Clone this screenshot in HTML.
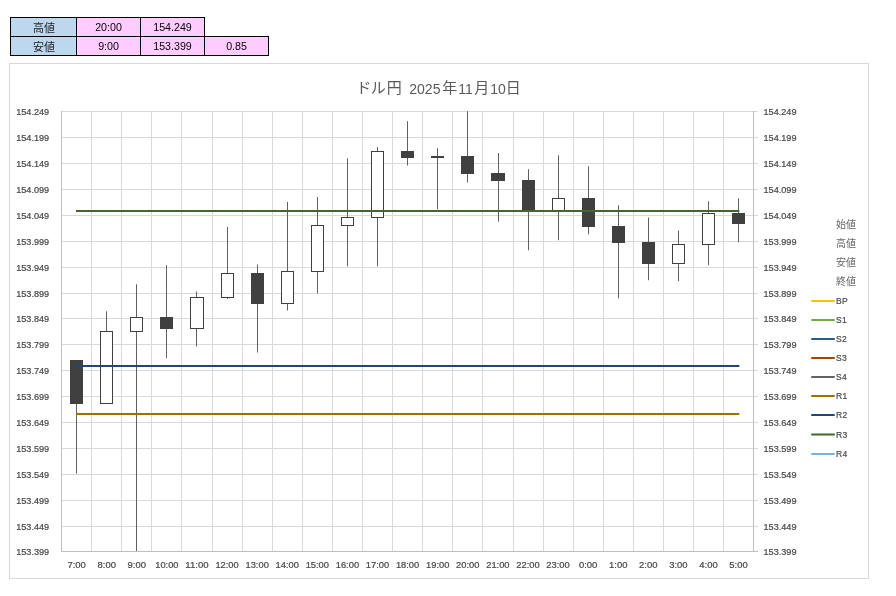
<!DOCTYPE html>
<html lang="ja"><head><meta charset="utf-8"><title>ドル円 2025年11月10日</title>
<style>
html,body{margin:0;padding:0;background:#fff;}
body{width:896px;height:596px;position:relative;overflow:hidden;font-family:"Liberation Sans","Noto Sans CJK JP",sans-serif;}
.c{position:absolute;box-sizing:border-box;border:1px solid #000;height:20px;line-height:19px;text-align:center;font-size:10.67px;color:#000;white-space:nowrap;}
.c.j{font-size:11px;padding:0 0 0 1px;line-height:20px;color:#222;}
.b{background:#BDD7EE;}
.p{background:#FFCCFF;}
#chart{position:absolute;left:0;top:0;}
svg text{font-family:"Liberation Sans","Noto Sans CJK JP",sans-serif;}
</style></head><body>
<div class="c b j" style="left:10px;top:17px;width:67px">高値</div>
<div class="c p" style="left:76px;top:17px;width:65px">20:00</div>
<div class="c p" style="left:140px;top:17px;width:65px">154.249</div>
<div class="c b j" style="left:10px;top:36px;width:67px">安値</div>
<div class="c p" style="left:76px;top:36px;width:65px">9:00</div>
<div class="c p" style="left:140px;top:36px;width:65px">153.399</div>
<div class="c p" style="left:204px;top:36px;width:65px">0.85</div>
<svg id="chart" width="896" height="596" viewBox="0 0 896 596">
<rect x="9.5" y="63.5" width="859" height="515" fill="#fff" stroke="#D9D9D9" stroke-width="1"/>
<text y="93.8" font-size="14" fill="#595959"><tspan x="356.3 370.8 386.7" y="93.2" font-size="15">ドル円</tspan><tspan x="402"> </tspan><tspan x="409.3" y="93.8">2025</tspan><tspan x="442.2" y="93.2" font-size="15">年</tspan><tspan x="458.2" y="93.8">11</tspan><tspan x="474.2" y="93.2" font-size="15">月</tspan><tspan x="490.2" y="93.8">10</tspan><tspan x="505.7" y="93.2" font-size="15">日</tspan></text>
<g stroke="#D9D9D9" stroke-width="1" fill="none">
<line x1="61" y1="111.50" x2="758" y2="111.50"/>
<line x1="61" y1="137.50" x2="758" y2="137.50"/>
<line x1="61" y1="163.50" x2="758" y2="163.50"/>
<line x1="61" y1="189.50" x2="758" y2="189.50"/>
<line x1="61" y1="215.50" x2="758" y2="215.50"/>
<line x1="61" y1="241.50" x2="758" y2="241.50"/>
<line x1="61" y1="267.50" x2="758" y2="267.50"/>
<line x1="61" y1="293.50" x2="758" y2="293.50"/>
<line x1="61" y1="318.50" x2="758" y2="318.50"/>
<line x1="61" y1="344.50" x2="758" y2="344.50"/>
<line x1="61" y1="370.50" x2="758" y2="370.50"/>
<line x1="61" y1="396.50" x2="758" y2="396.50"/>
<line x1="61" y1="422.50" x2="758" y2="422.50"/>
<line x1="61" y1="448.50" x2="758" y2="448.50"/>
<line x1="61" y1="474.50" x2="758" y2="474.50"/>
<line x1="61" y1="500.50" x2="758" y2="500.50"/>
<line x1="61" y1="526.50" x2="758" y2="526.50"/>
<line x1="61" y1="551.50" x2="758" y2="551.50"/>
<line x1="61.50" y1="111" x2="61.50" y2="552"/>
<line x1="91.50" y1="111" x2="91.50" y2="552"/>
<line x1="121.50" y1="111" x2="121.50" y2="552"/>
<line x1="151.50" y1="111" x2="151.50" y2="552"/>
<line x1="181.50" y1="111" x2="181.50" y2="552"/>
<line x1="212.50" y1="111" x2="212.50" y2="552"/>
<line x1="242.50" y1="111" x2="242.50" y2="552"/>
<line x1="272.50" y1="111" x2="272.50" y2="552"/>
<line x1="302.50" y1="111" x2="302.50" y2="552"/>
<line x1="332.50" y1="111" x2="332.50" y2="552"/>
<line x1="362.50" y1="111" x2="362.50" y2="552"/>
<line x1="392.50" y1="111" x2="392.50" y2="552"/>
<line x1="422.50" y1="111" x2="422.50" y2="552"/>
<line x1="452.50" y1="111" x2="452.50" y2="552"/>
<line x1="482.50" y1="111" x2="482.50" y2="552"/>
<line x1="513.50" y1="111" x2="513.50" y2="552"/>
<line x1="543.50" y1="111" x2="543.50" y2="552"/>
<line x1="573.50" y1="111" x2="573.50" y2="552"/>
<line x1="603.50" y1="111" x2="603.50" y2="552"/>
<line x1="633.50" y1="111" x2="633.50" y2="552"/>
<line x1="663.50" y1="111" x2="663.50" y2="552"/>
<line x1="693.50" y1="111" x2="693.50" y2="552"/>
<line x1="723.50" y1="111" x2="723.50" y2="552"/>
<line x1="753.50" y1="111" x2="753.50" y2="552"/>
</g>
<g stroke="#BFBFBF" stroke-width="1"><line x1="61" y1="551.5" x2="758" y2="551.5"/><line x1="753.5" y1="111" x2="753.5" y2="552"/><line x1="61.5" y1="111" x2="61.5" y2="552"/></g>
<g font-size="8.5" fill="#484848" stroke="#484848" stroke-width="0.2">
<text x="16.2" y="115.00" textLength="33" lengthAdjust="spacingAndGlyphs">154.249</text><text x="763.5" y="115.00" textLength="33" lengthAdjust="spacingAndGlyphs">154.249</text>
<text x="16.2" y="141.00" textLength="33" lengthAdjust="spacingAndGlyphs">154.199</text><text x="763.5" y="141.00" textLength="33" lengthAdjust="spacingAndGlyphs">154.199</text>
<text x="16.2" y="167.00" textLength="33" lengthAdjust="spacingAndGlyphs">154.149</text><text x="763.5" y="167.00" textLength="33" lengthAdjust="spacingAndGlyphs">154.149</text>
<text x="16.2" y="193.00" textLength="33" lengthAdjust="spacingAndGlyphs">154.099</text><text x="763.5" y="193.00" textLength="33" lengthAdjust="spacingAndGlyphs">154.099</text>
<text x="16.2" y="219.00" textLength="33" lengthAdjust="spacingAndGlyphs">154.049</text><text x="763.5" y="219.00" textLength="33" lengthAdjust="spacingAndGlyphs">154.049</text>
<text x="16.2" y="245.00" textLength="33" lengthAdjust="spacingAndGlyphs">153.999</text><text x="763.5" y="245.00" textLength="33" lengthAdjust="spacingAndGlyphs">153.999</text>
<text x="16.2" y="271.00" textLength="33" lengthAdjust="spacingAndGlyphs">153.949</text><text x="763.5" y="271.00" textLength="33" lengthAdjust="spacingAndGlyphs">153.949</text>
<text x="16.2" y="297.00" textLength="33" lengthAdjust="spacingAndGlyphs">153.899</text><text x="763.5" y="297.00" textLength="33" lengthAdjust="spacingAndGlyphs">153.899</text>
<text x="16.2" y="322.00" textLength="33" lengthAdjust="spacingAndGlyphs">153.849</text><text x="763.5" y="322.00" textLength="33" lengthAdjust="spacingAndGlyphs">153.849</text>
<text x="16.2" y="348.00" textLength="33" lengthAdjust="spacingAndGlyphs">153.799</text><text x="763.5" y="348.00" textLength="33" lengthAdjust="spacingAndGlyphs">153.799</text>
<text x="16.2" y="374.00" textLength="33" lengthAdjust="spacingAndGlyphs">153.749</text><text x="763.5" y="374.00" textLength="33" lengthAdjust="spacingAndGlyphs">153.749</text>
<text x="16.2" y="400.00" textLength="33" lengthAdjust="spacingAndGlyphs">153.699</text><text x="763.5" y="400.00" textLength="33" lengthAdjust="spacingAndGlyphs">153.699</text>
<text x="16.2" y="426.00" textLength="33" lengthAdjust="spacingAndGlyphs">153.649</text><text x="763.5" y="426.00" textLength="33" lengthAdjust="spacingAndGlyphs">153.649</text>
<text x="16.2" y="452.00" textLength="33" lengthAdjust="spacingAndGlyphs">153.599</text><text x="763.5" y="452.00" textLength="33" lengthAdjust="spacingAndGlyphs">153.599</text>
<text x="16.2" y="478.00" textLength="33" lengthAdjust="spacingAndGlyphs">153.549</text><text x="763.5" y="478.00" textLength="33" lengthAdjust="spacingAndGlyphs">153.549</text>
<text x="16.2" y="504.00" textLength="33" lengthAdjust="spacingAndGlyphs">153.499</text><text x="763.5" y="504.00" textLength="33" lengthAdjust="spacingAndGlyphs">153.499</text>
<text x="16.2" y="530.00" textLength="33" lengthAdjust="spacingAndGlyphs">153.449</text><text x="763.5" y="530.00" textLength="33" lengthAdjust="spacingAndGlyphs">153.449</text>
<text x="16.2" y="555.00" textLength="33" lengthAdjust="spacingAndGlyphs">153.399</text><text x="763.5" y="555.00" textLength="33" lengthAdjust="spacingAndGlyphs">153.399</text>
<text x="67.44" y="568" textLength="18.4" lengthAdjust="spacingAndGlyphs">7:00</text>
<text x="97.53" y="568" textLength="18.4" lengthAdjust="spacingAndGlyphs">8:00</text>
<text x="127.62" y="568" textLength="18.4" lengthAdjust="spacingAndGlyphs">9:00</text>
<text x="155.25" y="568" textLength="23.3" lengthAdjust="spacingAndGlyphs">10:00</text>
<text x="185.34" y="568" textLength="23.3" lengthAdjust="spacingAndGlyphs">11:00</text>
<text x="215.43" y="568" textLength="23.3" lengthAdjust="spacingAndGlyphs">12:00</text>
<text x="245.52" y="568" textLength="23.3" lengthAdjust="spacingAndGlyphs">13:00</text>
<text x="275.60" y="568" textLength="23.3" lengthAdjust="spacingAndGlyphs">14:00</text>
<text x="305.69" y="568" textLength="23.3" lengthAdjust="spacingAndGlyphs">15:00</text>
<text x="335.78" y="568" textLength="23.3" lengthAdjust="spacingAndGlyphs">16:00</text>
<text x="365.86" y="568" textLength="23.3" lengthAdjust="spacingAndGlyphs">17:00</text>
<text x="395.95" y="568" textLength="23.3" lengthAdjust="spacingAndGlyphs">18:00</text>
<text x="426.04" y="568" textLength="23.3" lengthAdjust="spacingAndGlyphs">19:00</text>
<text x="456.12" y="568" textLength="23.3" lengthAdjust="spacingAndGlyphs">20:00</text>
<text x="486.21" y="568" textLength="23.3" lengthAdjust="spacingAndGlyphs">21:00</text>
<text x="516.30" y="568" textLength="23.3" lengthAdjust="spacingAndGlyphs">22:00</text>
<text x="546.38" y="568" textLength="23.3" lengthAdjust="spacingAndGlyphs">23:00</text>
<text x="578.92" y="568" textLength="18.4" lengthAdjust="spacingAndGlyphs">0:00</text>
<text x="609.01" y="568" textLength="18.4" lengthAdjust="spacingAndGlyphs">1:00</text>
<text x="639.10" y="568" textLength="18.4" lengthAdjust="spacingAndGlyphs">2:00</text>
<text x="669.18" y="568" textLength="18.4" lengthAdjust="spacingAndGlyphs">3:00</text>
<text x="699.27" y="568" textLength="18.4" lengthAdjust="spacingAndGlyphs">4:00</text>
<text x="729.36" y="568" textLength="18.4" lengthAdjust="spacingAndGlyphs">5:00</text>
</g>
<g stroke="#606060" stroke-width="1">
<line x1="76.5" y1="360" x2="76.5" y2="473.5"/>
<line x1="106.5" y1="311.25" x2="106.5" y2="404"/>
<line x1="136.5" y1="284.25" x2="136.5" y2="551"/>
<line x1="166.5" y1="265.25" x2="166.5" y2="358.25"/>
<line x1="196.5" y1="291.5" x2="196.5" y2="346.5"/>
<line x1="227.5" y1="227" x2="227.5" y2="299"/>
<line x1="257.5" y1="264.5" x2="257.5" y2="352.5"/>
<line x1="287.5" y1="202" x2="287.5" y2="310.5"/>
<line x1="317.5" y1="197" x2="317.5" y2="293.25"/>
<line x1="347.5" y1="158.25" x2="347.5" y2="266.25"/>
<line x1="377.5" y1="147" x2="377.5" y2="266.25"/>
<line x1="407.5" y1="121.25" x2="407.5" y2="165.5"/>
<line x1="437.5" y1="148.25" x2="437.5" y2="209.25"/>
<line x1="467.5" y1="111.25" x2="467.5" y2="182.5"/>
<line x1="498.5" y1="153" x2="498.5" y2="221.75"/>
<line x1="528.5" y1="169.25" x2="528.5" y2="250.25"/>
<line x1="558.5" y1="155.25" x2="558.5" y2="240.25"/>
<line x1="588.5" y1="166.25" x2="588.5" y2="234.25"/>
<line x1="618.5" y1="205.25" x2="618.5" y2="298.25"/>
<line x1="648.5" y1="217.5" x2="648.5" y2="280.25"/>
<line x1="678.5" y1="230.5" x2="678.5" y2="281.25"/>
<line x1="708.5" y1="201.25" x2="708.5" y2="265.25"/>
<line x1="738.5" y1="198.25" x2="738.5" y2="242.25"/>
</g>
<g stroke="#404040" stroke-width="1">
<rect x="70.5" y="360.5" width="12" height="43" fill="#404040"/>
<rect x="100.5" y="331.5" width="12" height="72" fill="#fff"/>
<rect x="130.5" y="317.5" width="12" height="14" fill="#fff"/>
<rect x="160.5" y="317.5" width="12" height="11" fill="#404040"/>
<rect x="190.5" y="297.5" width="13" height="31" fill="#fff"/>
<rect x="221.5" y="273.5" width="12" height="24" fill="#fff"/>
<rect x="251.5" y="273.5" width="12" height="30" fill="#404040"/>
<rect x="281.5" y="271.5" width="12" height="32" fill="#fff"/>
<rect x="311.5" y="225.5" width="12" height="46" fill="#fff"/>
<rect x="341.5" y="217.5" width="12" height="8" fill="#fff"/>
<rect x="371.5" y="151.5" width="12" height="66" fill="#fff"/>
<rect x="401.5" y="151.5" width="12" height="6" fill="#404040"/>
<rect x="431.5" y="156.5" width="12" height="1" fill="#404040"/>
<rect x="461.5" y="156.5" width="12" height="17" fill="#404040"/>
<rect x="491.5" y="173.5" width="13" height="7" fill="#404040"/>
<rect x="522.5" y="180.5" width="12" height="30" fill="#404040"/>
<rect x="552.5" y="198.5" width="12" height="12" fill="#fff"/>
<rect x="582.5" y="198.5" width="12" height="28" fill="#404040"/>
<rect x="612.5" y="226.5" width="12" height="16" fill="#404040"/>
<rect x="642.5" y="242.5" width="12" height="21" fill="#404040"/>
<rect x="672.5" y="244.5" width="12" height="19" fill="#fff"/>
<rect x="702.5" y="213.5" width="12" height="31" fill="#fff"/>
<rect x="732.5" y="213.5" width="12" height="10" fill="#404040"/>
</g>
<g stroke-width="2" fill="none"><line x1="76.00" y1="414" x2="739.36" y2="414" stroke="#997300"/><line x1="76.00" y1="366" x2="739.36" y2="366" stroke="#264478"/><line x1="76.00" y1="211" x2="739.36" y2="211" stroke="#43682B"/></g>
<text x="836" y="227.50" font-size="10" fill="#666">始値</text>
<text x="836" y="246.50" font-size="10" fill="#666">高値</text>
<text x="836" y="265.50" font-size="10" fill="#666">安値</text>
<text x="836" y="284.50" font-size="10" fill="#666">終値</text>
<line x1="812" y1="301" x2="834" y2="301" stroke="#FFC000" stroke-width="2" stroke-linecap="round"/><text x="836" y="304" font-size="8.5" fill="#484848" stroke="#484848" stroke-width="0.2" letter-spacing="0.3">BP</text>
<line x1="812" y1="320" x2="834" y2="320" stroke="#70AD47" stroke-width="2" stroke-linecap="round"/><text x="836" y="323" font-size="8.5" fill="#484848" stroke="#484848" stroke-width="0.2" letter-spacing="0.3">S1</text>
<line x1="812" y1="339" x2="834" y2="339" stroke="#255E91" stroke-width="2" stroke-linecap="round"/><text x="836" y="342" font-size="8.5" fill="#484848" stroke="#484848" stroke-width="0.2" letter-spacing="0.3">S2</text>
<line x1="812" y1="358" x2="834" y2="358" stroke="#9E480E" stroke-width="2" stroke-linecap="round"/><text x="836" y="361" font-size="8.5" fill="#484848" stroke="#484848" stroke-width="0.2" letter-spacing="0.3">S3</text>
<line x1="812" y1="377" x2="834" y2="377" stroke="#636363" stroke-width="2" stroke-linecap="round"/><text x="836" y="380" font-size="8.5" fill="#484848" stroke="#484848" stroke-width="0.2" letter-spacing="0.3">S4</text>
<line x1="812" y1="396" x2="834" y2="396" stroke="#997300" stroke-width="2" stroke-linecap="round"/><text x="836" y="399" font-size="8.5" fill="#484848" stroke="#484848" stroke-width="0.2" letter-spacing="0.3">R1</text>
<line x1="812" y1="415" x2="834" y2="415" stroke="#264478" stroke-width="2" stroke-linecap="round"/><text x="836" y="418" font-size="8.5" fill="#484848" stroke="#484848" stroke-width="0.2" letter-spacing="0.3">R2</text>
<line x1="812" y1="434.5" x2="834" y2="434.5" stroke="#43682B" stroke-width="2" stroke-linecap="round"/><text x="836" y="437.5" font-size="8.5" fill="#484848" stroke="#484848" stroke-width="0.2" letter-spacing="0.3">R3</text>
<line x1="812" y1="454" x2="834" y2="454" stroke="#7CAFDD" stroke-width="2" stroke-linecap="round"/><text x="836" y="457" font-size="8.5" fill="#484848" stroke="#484848" stroke-width="0.2" letter-spacing="0.3">R4</text>
</svg>
</body></html>
